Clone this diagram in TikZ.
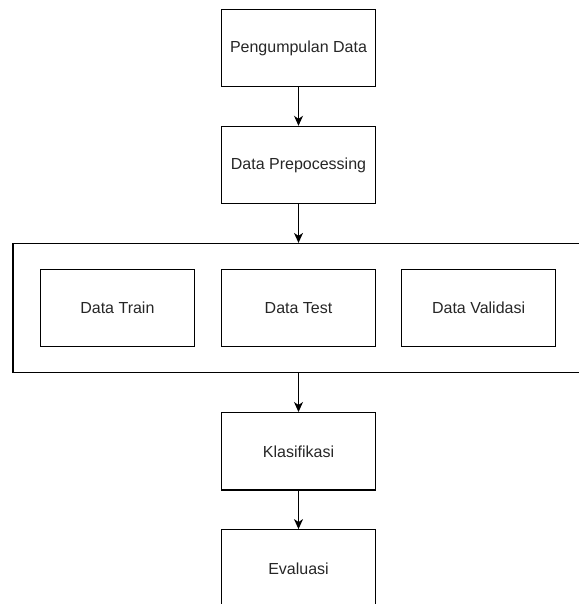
\documentclass[tikz,border=0pt]{standalone}
\usepackage{fontspec}
\setmainfont{Liberation Sans}
\usepackage{tikz}
\usetikzlibrary{arrows.meta,positioning}
\tikzset
{
    procnode/.style = {rectangle, draw=black, line width=1.1pt, align=center, minimum width=154pt, minimum height=77.5pt, text=black!85, font=\fontsize{16}{19}\selectfont},
    groupnode/.style = {rectangle, draw=black, line width=1.1pt, minimum width=571pt, minimum height=129.5pt},
    flow/.style = {draw=black, line width=1.1pt, -{Stealth[length=10pt,width=9pt,inset=3pt]}}
}

\begin{document}
\begin{tikzpicture}[x=1pt,y=1pt,node distance=38.5pt]
\useasboundingbox (0,0) rectangle (578,604);
\node[procnode] (kumpul) at (298.5,556) {Pengumpulan Data};
\node[procnode, below=of kumpul] (prepro) {Data Prepocessing};
\node[groupnode, below=of prepro] (split) {};
\node[procnode] (test) at (split.center) {Data Test};
\node[procnode, left=26pt of test] (train) {Data Train};
\node[procnode, right=25pt of test] (valid) {Data Validasi};
\node[procnode, below=of split] (klas) {Klasifikasi};
\node[procnode, below=of klas] (eval) {Evaluasi};
% alur
\draw[flow] (kumpul) -- (prepro);
\draw[flow] (prepro) -- (split);
\draw[flow] (split) -- (klas);
\draw[flow] (klas) -- (eval);
\end{tikzpicture}
\end{document}
